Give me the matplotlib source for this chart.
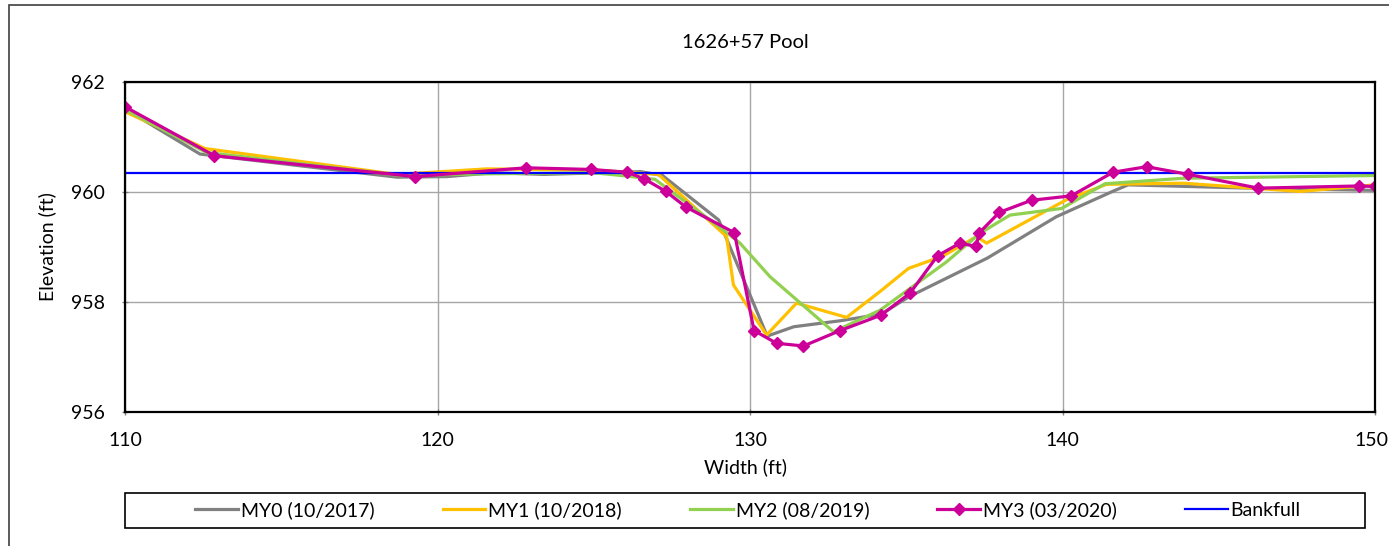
import matplotlib
matplotlib.use('Agg')
import matplotlib.pyplot as plt
import matplotlib.transforms as mtransforms
from matplotlib.patches import Rectangle

plt.rcParams['font.family'] = ['Lato', 'DejaVu Sans']
plt.rcParams['font.size'] = 14

# Cross-section survey data (width ft, elevation ft).
my0_x = [110.0, 112.4, 118.7, 120.3, 121.8, 123.4, 126.5, 127.2, 129.0, 130.55,
         131.4, 132.9, 134.2, 135.1, 137.6, 139.8, 141.6, 142.1, 146.0, 150.0]
my0_y = [961.51, 960.69, 960.27, 960.28, 960.35, 960.32, 960.37, 960.30, 959.49, 957.38,
         957.55, 957.66, 957.78, 958.10, 958.80, 959.55, 960.01, 960.13, 960.07, 960.03]

my1_x = [110.0, 112.56, 118.7, 121.57, 125.0, 127.07, 129.25, 129.47, 130.53, 131.49,
         133.09, 134.16, 135.07, 136.19, 137.25, 137.57, 140.13, 141.41, 143.87, 147.6, 150.0]
my1_y = [961.46, 960.79, 960.32, 960.42, 960.40, 960.32, 959.19, 958.31, 957.40, 957.98,
         957.72, 958.19, 958.61, 958.84, 959.19, 959.07, 959.86, 960.14, 960.16, 960.01, 960.13]

my2_x = [110.0, 112.6, 118.8, 121.5, 125.0, 126.05, 126.96, 129.15, 129.68, 130.64,
         132.67, 134.16, 136.29, 137.36, 138.32, 139.97, 141.36, 143.87, 150.0]
my2_y = [961.50, 960.72, 960.30, 960.33, 960.35, 960.29, 960.23, 959.31, 959.07, 958.46,
         957.46, 957.85, 958.73, 959.25, 959.58, 959.70, 960.15, 960.25, 960.30]

my3_x = [110.0, 112.86, 119.28, 122.83, 124.91, 126.07, 126.61, 127.31, 127.94, 129.50,
         130.13, 130.85, 131.71, 132.88, 134.19, 135.12, 136.0, 136.72, 137.23, 137.34,
         137.98, 139.01, 140.28, 141.62, 142.69, 144.03, 146.27, 149.50, 150.0]
my3_y = [961.55, 960.66, 960.28, 960.44, 960.41, 960.36, 960.24, 960.01, 959.73, 959.26,
         957.48, 957.25, 957.20, 957.48, 957.76, 958.16, 958.84, 959.07, 959.01, 959.26,
         959.63, 959.85, 959.93, 960.36, 960.46, 960.32, 960.07, 960.11, 960.10]

bankfull = 960.35

x_ticks = [110, 120, 130, 140, 150]
y_ticks = [956, 958, 960, 962]

fig = plt.figure(figsize=(13.89, 5.46), dpi=100)
ax = fig.add_axes([125 / 1389, 1 - 412 / 546, 1250 / 1389, 330 / 546])

ax.plot(my0_x, my0_y, color='#808080', lw=2.3, label='MY0 (10/2017)', zorder=3)
ax.plot(my1_x, my1_y, color='#FFC000', lw=2.3, label='MY1 (10/2018)', zorder=3)
ax.plot(my2_x, my2_y, color='#92D050', lw=2.3, label='MY2 (08/2019)', zorder=3)
ax.axhline(bankfull, color='#0000FF', lw=1.6, zorder=4)
ax.plot(my3_x, my3_y, color='#CC0099', lw=2.3, marker='D', markersize=6,
        label='MY3 (03/2020)', zorder=5)
ax.plot([], [], color='#0000FF', lw=1.6, label='Bankfull')

ax.set_xlim(110, 150)
ax.set_ylim(956, 962)
ax.set_xticks(x_ticks)
ax.set_yticks(y_ticks)
ax.grid(True, color='#a6a6a6', lw=1, zorder=0)
ax.tick_params(direction='inout', length=5, width=1, color='#808080', pad=12)

# keep the last x label inside the figure edge
last = ax.get_xticklabels()[-1]
last.set_transform(last.get_transform() +
                   mtransforms.ScaledTranslation(-4 / 100, 0, fig.dpi_scale_trans))

for s in ax.spines.values():
    s.set_color('black')
    s.set_linewidth(1.6)
    s.set_zorder(6)

ax.set_xlabel('Width (ft)')
ax.set_ylabel('Elevation (ft)')
ax.xaxis.set_label_coords(0.496, -0.14)
ax.yaxis.set_label_coords(-0.055, 0.5)

fig.text(745 / 1389, 1 - 43 / 546, '1626+57 Pool', ha='center', va='center', fontsize=14.5)

# legend sits in its own box below the plot
fig.legend(loc='center', bbox_to_anchor=(748 / 1389, 1 - 510 / 546), ncol=5,
           frameon=False, handlelength=2.2, handletextpad=0.15, columnspacing=3.5)
fig.patches.append(Rectangle((125 / 1389, 1 - 528 / 546), 1240 / 1389, 35 / 546,
                             transform=fig.transFigure, fill=False,
                             edgecolor='black', lw=1.2))

# outer chart border
fig.patches.append(Rectangle((9 / 1389, -0.1), 1.2, 1.1 - 5 / 546,
                             transform=fig.transFigure, fill=False,
                             edgecolor='#404040', lw=1.2))

fig.savefig('out.png', dpi=100)
